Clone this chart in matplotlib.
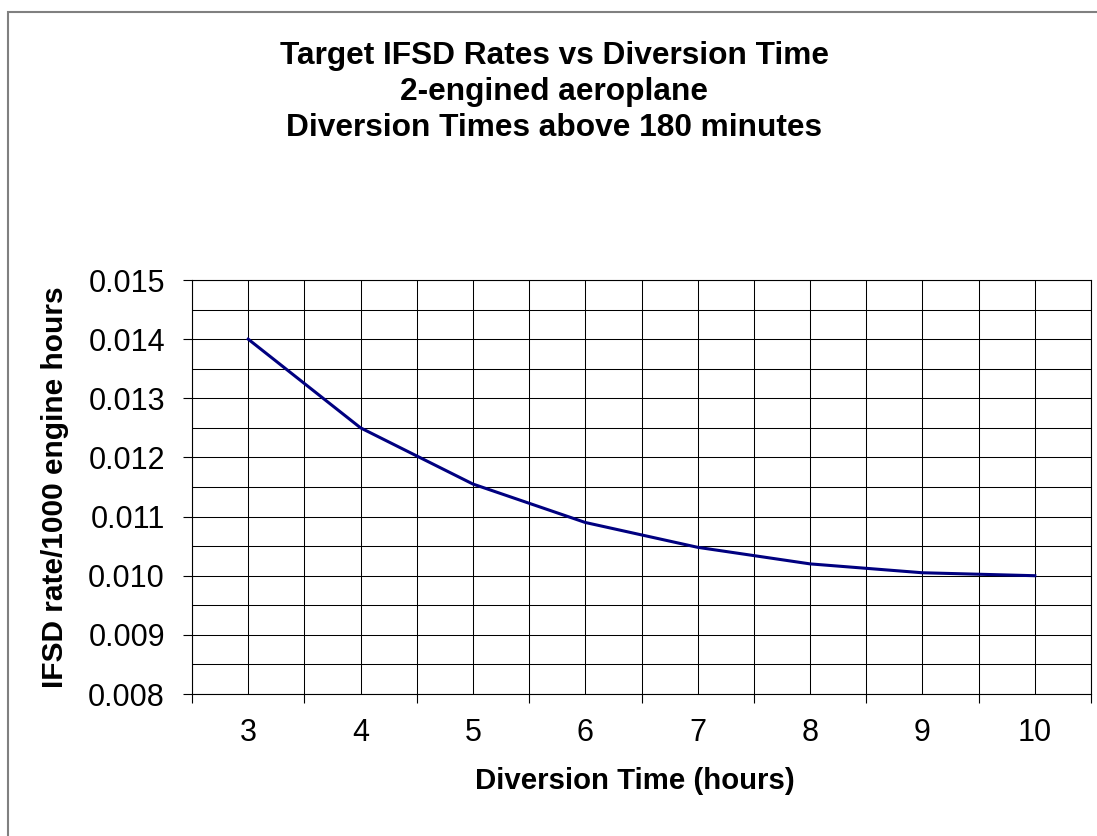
import matplotlib
matplotlib.use("Agg")
import matplotlib.pyplot as plt
from matplotlib.patches import Rectangle
from matplotlib.ticker import MultipleLocator, FixedLocator

# data
hours = ["3", "4", "5", "6", "7", "8", "9", "10"]
ifsd_rate = [0.0140, 0.0125, 0.01155, 0.0109, 0.01048, 0.0102, 0.01005, 0.0100]
y_ticks = [0.008, 0.009, 0.010, 0.011, 0.012, 0.013, 0.014, 0.015]

plt.rcParams['font.family'] = ['Liberation Sans', 'DejaVu Sans']

fig = plt.figure(figsize=(10.97, 8.36), dpi=100)
ax = fig.add_axes([192 / 1097, 1 - 694 / 836, (1091 - 192) / 1097, (694 - 280) / 836])

x = list(range(len(hours)))
ax.plot(x, ifsd_rate, color='#000080', linewidth=2.2, zorder=3)

ax.set_xlim(-0.5, len(hours) - 0.5)
ax.set_ylim(0.008, 0.015)

ax.set_xticks(x)
ax.set_xticklabels(hours)
ax.xaxis.set_minor_locator(FixedLocator([i - 0.5 for i in range(len(hours) + 1)]))
ax.set_yticks(y_ticks)
ax.set_yticklabels([f"{v:.3f}" for v in y_ticks])
ax.yaxis.set_minor_locator(MultipleLocator(0.0005))

ax.tick_params(axis='x', which='major', length=0, pad=17, labelsize=22)
ax.tick_params(axis='x', which='minor', length=6.5, width=0.8, direction='out')
ax.tick_params(axis='y', which='major', length=6.5, width=0.8, pad=13, labelsize=22)
ax.tick_params(axis='y', which='minor', length=0)

ax.grid(True, which='both', color='black', linewidth=0.75)
ax.set_axisbelow(True)
for s in ax.spines.values():
    s.set_color('black')
    s.set_linewidth(0.8)

ax.set_xlabel("Diversion Time (hours)", fontsize=21.2, fontweight='bold', labelpad=15)
ax.xaxis.set_label_coords((635 - 192) / 899, -0.2)
ax.xaxis.label.set_verticalalignment('center')
ax.xaxis.set_label_coords((635 - 192) / 899, -(781 - 694) / 414)
ax.set_ylabel("IFSD rate/1000 engine hours", fontsize=21.5, fontweight='bold', labelpad=14)

fig.text(554 / 1097, 1 - 92 / 836,
         "Target IFSD Rates vs Diversion Time\n2-engined aeroplane\nDiversion Times above 180 minutes",
         ha='center', va='center', fontsize=22.8, fontweight='bold', linespacing=1.28)

# outer chart border
fig.patches.append(Rectangle((8 / 1097, -0.2), 1.5, 1 - 12 / 836 + 0.2, transform=fig.transFigure,
                             fill=False, edgecolor='#808080', linewidth=1.5))

fig.savefig("out.png", dpi=100)
